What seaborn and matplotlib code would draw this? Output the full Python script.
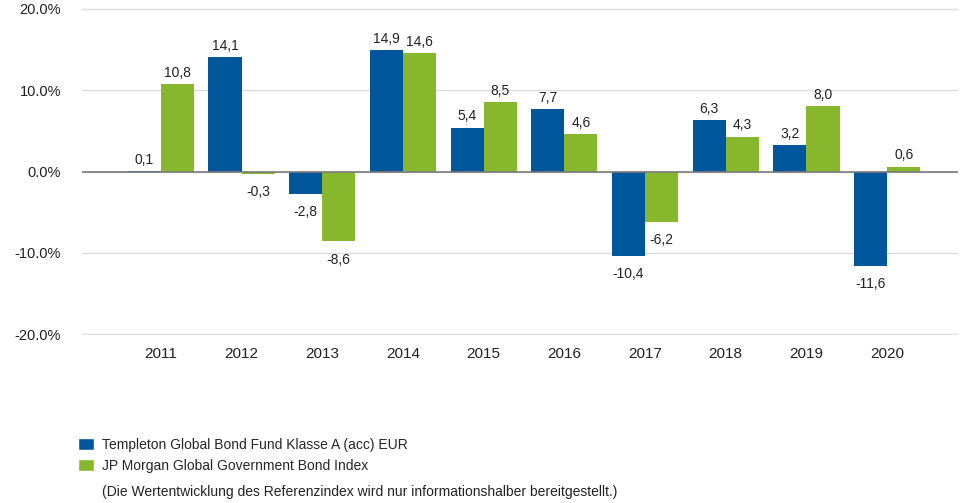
import pandas as pd
import seaborn as sns
import matplotlib.pyplot as plt
from matplotlib.patches import Patch

years = ['2011', '2012', '2013', '2014', '2015', '2016', '2017', '2018', '2019', '2020']
fund = [0.1, 14.1, -2.8, 14.9, 5.4, 7.7, -10.4, 6.3, 3.2, -11.6]
index = [10.8, -0.3, -8.6, 14.6, 8.5, 4.6, -6.2, 4.3, 8.0, 0.6]
fund_name = 'Templeton Global Bond Fund Klasse A (acc) EUR'
index_name = 'JP Morgan Global Government Bond Index'
note = '(Die Wertentwicklung des Referenzindex wird nur informationshalber bereitgestellt.)'

colors = {fund_name: '#00569b', index_name: '#86b72c'}

df = pd.concat([
    pd.DataFrame({'Jahr': years, 'Wert': fund, 'Serie': fund_name}),
    pd.DataFrame({'Jahr': years, 'Wert': index, 'Serie': index_name}),
])

sns.set_style('white')
plt.rcParams['font.family'] = ['Liberation Sans', 'DejaVu Sans']

fig = plt.figure(figsize=(9.62, 5.03), dpi=100)
ax = fig.add_axes([0.085, 0.334, 0.911, 0.65])

sns.barplot(data=df, x='Jahr', y='Wert', hue='Serie', palette=colors, width=0.82,
            saturation=1, linewidth=0, ax=ax, legend=False, zorder=2)

# value labels with comma decimals, negatives sit a bit further from the bar
for cont, vals in zip(ax.containers, [fund, index]):
    txt = [f'{v:.1f}'.replace('.', ',') for v in vals]
    ax.bar_label(cont, labels=[t if v >= 0 else '' for t, v in zip(txt, vals)],
                 padding=3, fontsize=10, color='#222222')
    ax.bar_label(cont, labels=[t if v < 0 else '' for t, v in zip(txt, vals)],
                 padding=8, fontsize=10, color='#222222')

ax.set_ylim(-20.1, 20.1)
ax.set_xlim(-0.98, 9.88)
ax.set_yticks([-20, -10, 0, 10, 20])
ax.set_yticklabels([f'{v:.1f}%' for v in [-20, -10, 0, 10, 20]])
ax.yaxis.grid(True, color='#dcdcdc', lw=1, zorder=0)
ax.axhline(0, color='#7a7a7a', lw=1.2, zorder=3)
for s in ax.spines.values():
    s.set_visible(False)
ax.tick_params(axis='y', length=0, labelsize=10.5, colors='#222222', pad=15)
ax.tick_params(axis='x', length=0, labelsize=11, colors='#222222', pad=9)
ax.set_xlabel('')
ax.set_ylabel('')

handles = [Patch(facecolor=colors[fund_name]), Patch(facecolor=colors[index_name])]
ax.legend(handles, [fund_name, index_name], loc='upper left',
          bbox_to_anchor=(78 / 962, 1 - 438 / 503), bbox_transform=fig.transFigure,
          frameon=False, fontsize=10, handlelength=1.15, handleheight=1.0,
          handletextpad=0.55, labelspacing=0.5, borderpad=0, borderaxespad=0)

fig.text(102 / 962, 1 - 492 / 503, note, fontsize=10, color='#222222', va='center')

fig.savefig('out.png', dpi=100)
